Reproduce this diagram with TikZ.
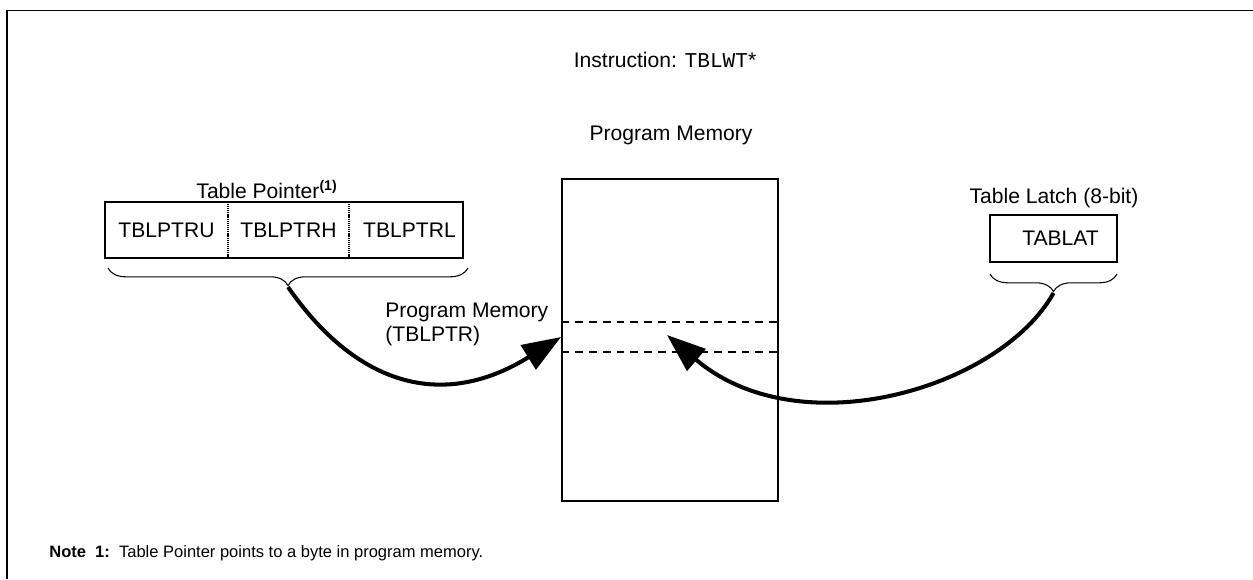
\documentclass[tikz,border=0pt]{standalone}
\usepackage{fontspec}
\setmainfont{Liberation Sans}
\setmonofont{Liberation Mono}
\usetikzlibrary{arrows.meta}
\usetikzlibrary{decorations.pathreplacing}

\begin{document}
\begin{tikzpicture}[x=0.02cm, y=-0.02cm,
    font=\fontsize{12}{13.5}\selectfont,
    frame/.style={line width=1.1pt},
    brace/.style={decorate, decoration={brace, amplitude=10pt}, line width=0.6pt},
    bigarrow/.style={line width=2.3pt, -{Triangle[length=22pt, width=16pt]}},
    slot/.style={dash pattern=on 4.5pt off 3.4pt, line width=0.7pt},
    divider/.style={dash pattern=on 0.7pt off 0.5pt, line width=1.2pt}]
  \useasboundingbox (0,0) rectangle (1253,579);
  \draw[frame] (7,579) -- (7,10.5) -- (1253,10.5);

  \node (instr) [anchor=base] at (665,67) {Instruction: \texttt{TBLWT}*};
  \node (pmtitle) [anchor=base] at (671,140) {Program Memory};
  \node (pm) [draw, frame, minimum width=4.32cm, minimum height=6.44cm] at (670,340) {};
  \draw[slot] (pm.west |- 0,322) -- (pm.east |- 0,322);
  \draw[slot] (pm.west |- 0,352) -- (pm.east |- 0,352);

  \begin{scope}[every node/.style={minimum height=1.12cm, inner sep=0pt}]
    \node (tblu) [minimum width=2.46cm] at (166.5,230) {TBLPTRU};
    \node (tblh) [minimum width=2.42cm] at (288.5,230) {TBLPTRH};
    \node (tbll) [minimum width=2.28cm] at (406,230) {\hspace{4pt}TBLPTRL};
    \node (tablat) [draw, frame, minimum width=2.54cm, minimum height=0.94cm] at (1053.5,238.5) {\hspace{8pt}TABLAT};
  \end{scope}
  \draw[frame] (tblu.north west) rectangle (tbll.south east);
  \draw[divider] (tblu.north east) -- (tblu.south east);
  \draw[divider] (tblh.north east) -- (tblh.south east);

  \node (tplabel) [anchor=base] at (267,198) {Table Pointer\textsuperscript{\bfseries(1)}};
  \node (tllabel) [anchor=base] at (1054,203) {Table Latch (8-bit)};

  \draw[brace] (468,268) -- (108,268);
  \draw[brace] (1117,274) -- (990,274);
  \coordinate (ptrtip) at (288,287);
  \coordinate (lattip) at (1053.5,293);
  \coordinate (bytel) at (561,337);
  \coordinate (byter) at (667,335);

  \draw[bigarrow] (ptrtip) .. controls +(68,98) and +(-119,74) .. (bytel);
  \draw[bigarrow] (lattip) .. controls +(-53,95) and +(133,113) .. (byter);

  \node (tblptrtext) [anchor=north west, inner sep=0pt, align=left] at (385,303) {Program Memory\\(TBLPTR)};

  \node (note) [anchor=west, inner sep=0pt, font=\fontsize{9.4}{11}\selectfont] at (49,553) {\textbf{Note\ \ 1:}\ \ Table Pointer points to a byte in program memory.};
\end{tikzpicture}
\end{document}
